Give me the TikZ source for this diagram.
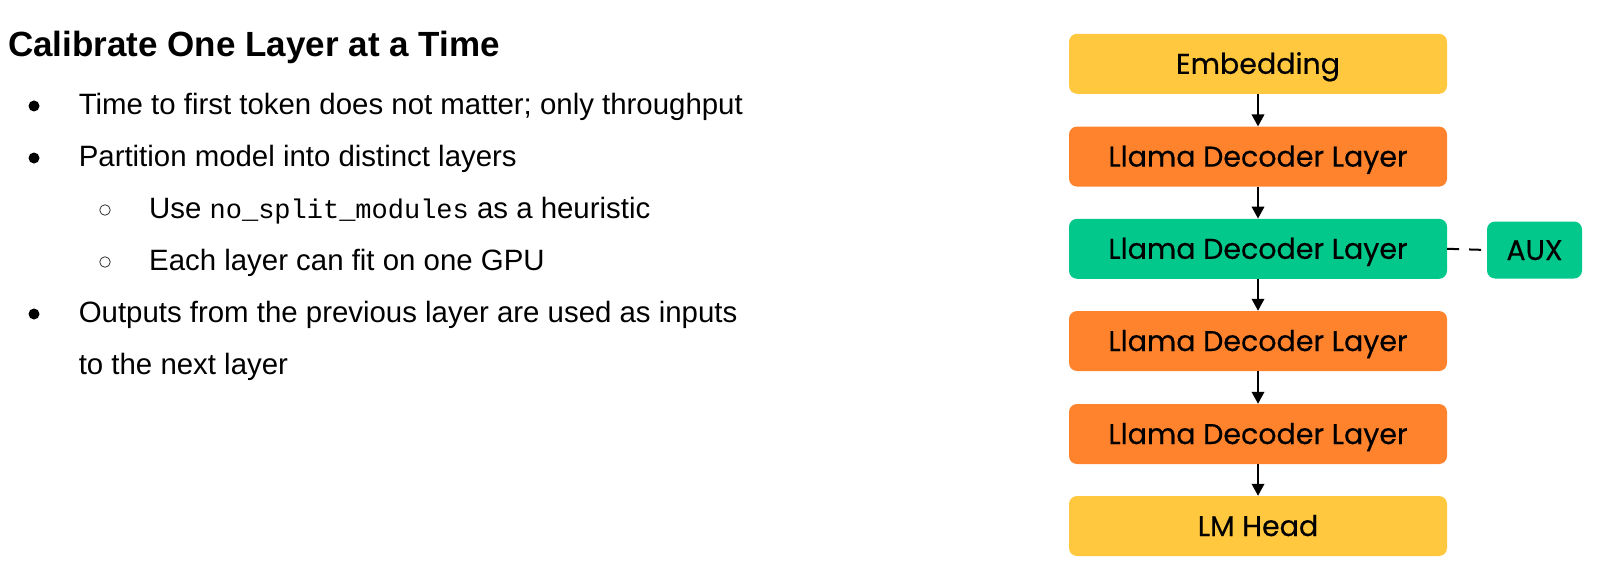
\documentclass[tikz,border=0pt]{standalone}
\usepackage{fontspec}
\setmainfont{Liberation Sans}
\newfontfamily\boxfont{Poppins}[FakeBold=0.4]
\newfontfamily\codefont{Liberation Mono}
\usetikzlibrary{arrows.meta}
\definecolor{cyellow}{RGB}{255,200,62}
\definecolor{corange}{RGB}{255,131,44}
\definecolor{cgreen}{RGB}{2,201,139}
\tikzset{
  layerbox/.style={rounded corners=8pt, minimum width=378pt, minimum height=60pt, inner sep=0pt, text height=20pt, text depth=0pt, font=\boxfont\fontsize{28.5}{34}\selectfont, text=black},
  auxbox/.style={rounded corners=8pt, minimum width=95pt, minimum height=57pt, inner sep=0pt, text height=20pt, text depth=0pt, font=\boxfont\fontsize{28.5}{34}\selectfont, fill=cgreen},
  flow/.style={draw=black, line width=2pt, -{Triangle[length=12pt,width=12.5pt]}},
  bodytext/.style={anchor=base west, inner sep=0pt, font=\fontsize{29.4}{35}\selectfont},
  dot/.style={circle, fill=black, minimum size=11pt, inner sep=0pt},
  ring/.style={circle, draw=black!80, line width=0.8pt, minimum size=10.5pt, inner sep=0pt},
}
\begin{document}
\begin{tikzpicture}[x=1pt, y=-1pt]
\useasboundingbox (0,0) rectangle (1600,575);
% left text
\node[anchor=base west, inner sep=0pt, font=\bfseries\fontsize{35}{42}\selectfont] (title) at (8,57) {Calibrate One Layer at a Time};
\node[dot] (d1) at (34,106) {};
\node[bodytext] (t1) at (78.6,114) {Time to first token does not matter; only throughput};
\node[dot] (d2) at (34,158) {};
\node[bodytext] (t2) at (78.6,166) {Partition model into distinct layers};
\node[ring] (r1) at (105,210) {};
\node[bodytext] (t3) at (149,218) {Use {\codefont\fontsize{27}{32}\selectfont no\_split\_modules} as a heuristic};
\node[ring] (r2) at (105,262) {};
\node[bodytext] (t4) at (149,270) {Each layer can fit on one GPU};
\node[dot] (d3) at (34,314) {};
\node[bodytext] (t5) at (78.6,322.5) {Outputs from the previous layer are used as inputs};
\node[bodytext] (t6) at (78.6,374.5) {to the next layer};
% diagram
\node[layerbox, fill=cyellow] (emb) at (1258,63.8) {Embedding};
\node[layerbox, fill=corange] (l1) at (1258,156.6) {Llama Decoder Layer};
\node[layerbox, fill=cgreen] (l2) at (1258,248.8) {Llama Decoder Layer};
\node[layerbox, fill=corange] (l3) at (1258,341) {Llama Decoder Layer};
\node[layerbox, fill=corange] (l4) at (1258,434) {Llama Decoder Layer};
\node[layerbox, fill=cyellow] (head) at (1258,526) {LM Head};
\node[auxbox] (aux) at (1534.5,250) {AUX};
\draw[flow] (emb) -- (l1);
\draw[flow] (l1) -- (l2);
\draw[flow] (l2) -- (l3);
\draw[flow] (l3) -- (l4);
\draw[flow] (l4) -- (head);
\draw[line width=2pt, dash pattern=on 12pt off 10pt] (l2.east) -- (aux.west);
\end{tikzpicture}
\end{document}
